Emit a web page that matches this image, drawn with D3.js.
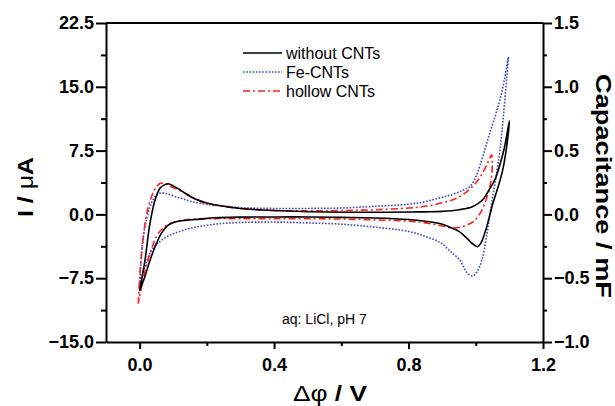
<!DOCTYPE html>
<html>
<head>
<meta charset="utf-8">
<script src="https://cdn.jsdelivr.net/npm/d3@7"></script>
<style>
    body { margin: 0; background: #fff; }
    svg text { font-family: "Liberation Sans", Arial, sans-serif; }
</style>
</head>
<body>
<div id="chart"></div>
<script>
// CV data: [potential / V, current / uA], forward sweep then return sweep
const withoutCNTs = [
    [0.0, -9.0], [0.008, -7.2], [0.016, -5.4], [0.031, -1.0], [0.046, 1.7], [0.061, 3.1],
    [0.075, 3.5], [0.085, 3.6], [0.1, 3.35], [0.12, 2.9], [0.14, 2.35], [0.165, 1.8],
    [0.2, 1.35], [0.25, 0.95], [0.3, 0.7], [0.4, 0.45], [0.5, 0.32], [0.6, 0.25],
    [0.7, 0.25], [0.8, 0.28], [0.85, 0.3], [0.9, 0.35], [0.95, 0.55], [0.99, 0.9],
    [1.02, 1.7], [1.04, 2.9], [1.057, 4.1], [1.07, 5.6], [1.085, 7.8], [1.1, 11.0],
    [1.092, 8.0], [1.08, 5.2], [1.067, 3.3], [1.051, 1.3], [1.03, -1.8], [1.015, -3.4],
    [1.005, -3.8], [0.99, -3.45], [0.975, -2.85], [0.95, -2.0], [0.92, -1.45], [0.89, -1.05],
    [0.85, -0.8], [0.8, -0.6], [0.7, -0.42], [0.6, -0.35], [0.5, -0.3], [0.4, -0.3],
    [0.3, -0.32], [0.224, -0.4], [0.18, -0.55], [0.135, -0.7], [0.1, -0.95], [0.084, -1.3],
    [0.065, -2.2], [0.046, -3.8], [0.03, -5.5], [0.015, -7.4], [0.0, -9.0]
];

const feCNTs = [
    [0.0, -8.3], [0.006, -4.6], [0.016, -1.4], [0.031, 0.9], [0.046, 2.1], [0.06, 2.5],
    [0.08, 2.45], [0.105, 2.1], [0.13, 1.8], [0.155, 1.5], [0.2, 1.2], [0.25, 1.0],
    [0.3, 0.8], [0.4, 0.7], [0.5, 0.7], [0.6, 0.75], [0.7, 0.95], [0.8, 1.2],
    [0.85, 1.5], [0.894, 1.95], [0.93, 2.35], [0.96, 2.8], [0.983, 3.3], [1.0, 4.4],
    [1.013, 5.8], [1.03, 8.0], [1.042, 9.6], [1.058, 11.6], [1.072, 13.5], [1.085, 15.8],
    [1.097, 18.5],
    [1.092, 16.0], [1.082, 11.5], [1.072, 7.6], [1.062, 4.8], [1.047, 1.3], [1.032, -2.6],
    [1.018, -5.4], [1.003, -6.8], [0.99, -7.25], [0.973, -6.8], [0.953, -5.4], [0.923, -4.3],
    [0.894, -3.3], [0.85, -2.6], [0.8, -2.0], [0.7, -1.5], [0.6, -1.15], [0.5, -1.0],
    [0.4, -0.9], [0.3, -0.95], [0.224, -1.15], [0.155, -1.6], [0.105, -2.2], [0.066, -3.0],
    [0.036, -4.2], [0.016, -6.1], [0.0, -8.3]
];

const hollowCNTs = [
    [-0.004, -10.5], [0.0, -7.5], [0.011, -2.6], [0.026, 0.9], [0.046, 3.0], [0.062, 3.65],
    [0.075, 3.6], [0.09, 3.3], [0.115, 2.9], [0.155, 2.1], [0.194, 1.3], [0.224, 1.1],
    [0.3, 0.7], [0.4, 0.45], [0.5, 0.42], [0.6, 0.45], [0.7, 0.55], [0.8, 0.75],
    [0.85, 0.95], [0.894, 1.3], [0.943, 1.9], [0.983, 3.0], [1.008, 4.1], [1.022, 5.0],
    [1.035, 6.0], [1.047, 7.0],
    [1.049, 6.0], [1.047, 4.45], [1.04, 2.9], [1.027, 1.3], [1.013, 0.13], [0.993, -0.86],
    [0.963, -1.4], [0.933, -1.6], [0.894, -1.3], [0.85, -1.0], [0.8, -0.8], [0.7, -0.65],
    [0.6, -0.55], [0.5, -0.5], [0.4, -0.5], [0.3, -0.5], [0.224, -0.5], [0.135, -0.66],
    [0.085, -1.2], [0.056, -2.2], [0.031, -4.6], [0.011, -7.5], [-0.004, -10.5]
];

const seriesNames = ["without CNTs", "Fe-CNTs", "hollow CNTs"];

const xTicks = [0.0, 0.4, 0.8, 1.2];
const xMinor = [0.2, 0.6, 1.0];
const yTicks = [-15, -7.5, 0, 7.5, 15, 22.5];
const yMinor = [-11.25, -3.75, 3.75, 11.25, 18.75];
const y2Ticks = [-1.0, -0.5, 0.0, 0.5, 1.0, 1.5];
const y2Minor = [-0.75, -0.25, 0.25, 0.75, 1.25];

const margin = { top: 23, right: 72, bottom: 64, left: 106 };
const width = 615 - margin.left - margin.right;
const height = 406 - margin.top - margin.bottom;

const svg = d3.select("#chart")
    .append("svg")
    .attr("width", 615)
    .attr("height", 406)
    .append("g")
    .attr("transform", `translate(${margin.left},${margin.top})`);

const x = d3.scaleLinear().domain([-0.1, 1.2]).range([0, width]);
const y = d3.scaleLinear().domain([-15, 22.5]).range([height, 0]);
const y2 = d3.scaleLinear().domain([-1.0, 1.5]).range([height, 0]);

const fmt = d3.format(".1f");

function styleAxis(g) {
    g.select(".domain").attr("stroke", "#000").attr("stroke-width", 2);
    g.selectAll(".tick line").attr("stroke", "#000").attr("stroke-width", 2);
    g.selectAll(".tick text")
        .attr("fill", "#000")
        .style("font-size", "18px")
        .style("font-weight", "bold");
}

function minorTicks(g) {
    g.select(".domain").remove();
    g.selectAll(".tick line").attr("stroke", "#000").attr("stroke-width", 2);
}

// top border
svg.append("line")
    .attr("x1", 0).attr("x2", width)
    .attr("y1", 0).attr("y2", 0)
    .attr("stroke", "#000").attr("stroke-width", 2);

// bottom axis
svg.append("g")
    .attr("transform", `translate(0,${height})`)
    .call(d3.axisBottom(x).tickValues(xTicks).tickFormat(fmt).tickSize(7).tickPadding(9).tickSizeOuter(0))
    .call(styleAxis);
svg.append("g")
    .attr("transform", `translate(0,${height})`)
    .call(d3.axisBottom(x).tickValues(xMinor).tickFormat("").tickSize(4))
    .call(minorTicks);

// left axis
svg.append("g")
    .call(d3.axisLeft(y).tickValues(yTicks).tickFormat(fmt).tickSize(10).tickPadding(2).tickSizeOuter(0))
    .call(styleAxis);
svg.append("g")
    .call(d3.axisLeft(y).tickValues(yMinor).tickFormat("").tickSize(5))
    .call(minorTicks);

// right axis
svg.append("g")
    .attr("transform", `translate(${width},0)`)
    .call(d3.axisRight(y2).tickValues(y2Ticks).tickFormat(fmt).tickSize(9).tickPadding(2).tickSizeOuter(0))
    .call(styleAxis);
svg.append("g")
    .attr("transform", `translate(${width},0)`)
    .call(d3.axisRight(y2).tickValues(y2Minor).tickFormat("").tickSize(4))
    .call(minorTicks);

// curves
const line = d3.line()
    .x(d => x(d[0]))
    .y(d => y(d[1]))
    .curve(d3.curveCatmullRom.alpha(0.5));

const styles = [
    { color: "#000000", dash: null, w: 1.6 },
    { color: "#3a48c0", dash: "1.6,1.6", w: 1.6 },
    { color: "#ff2020", dash: "7,3,2,3", w: 1.6 }
];

[feCNTs, hollowCNTs, withoutCNTs].forEach((data, i) => {
    const s = styles[[1, 2, 0][i]];
    svg.append("path")
        .datum(data)
        .attr("d", line)
        .style("fill", "none")
        .style("stroke", s.color)
        .style("stroke-width", s.w)
        .style("stroke-dasharray", s.dash);
});

// legend
const legend = svg.append("g").attr("transform", "translate(137,30)");
seriesNames.forEach((name, i) => {
    const s = styles[i];
    legend.append("line")
        .attr("x1", 0).attr("x2", 39)
        .attr("y1", i * 19).attr("y2", i * 19)
        .style("stroke", s.color)
        .style("stroke-width", s.w)
        .style("stroke-dasharray", s.dash);
    legend.append("text")
        .attr("x", 43)
        .attr("y", i * 19 + 5.5)
        .style("font-size", "16px")
        .text(name);
});

// annotation
svg.append("text")
    .attr("x", 176)
    .attr("y", 301)
    .style("font-size", "14px")
    .text("aq: LiCl, pH 7");

// axis titles
svg.append("text")
    .attr("transform", "rotate(-90)")
    .attr("x", -164)
    .attr("y", -73)
    .attr("text-anchor", "middle")
    .attr("textLength", 60)
    .attr("lengthAdjust", "spacingAndGlyphs")
    .style("font-size", "22px")
    .style("font-weight", "bold")
    .html('I / <tspan style="font-weight:normal">μ</tspan>A');

svg.append("text")
    .attr("x", 224)
    .attr("y", 378)
    .attr("text-anchor", "middle")
    .attr("textLength", 74)
    .attr("lengthAdjust", "spacingAndGlyphs")
    .style("font-size", "22px")
    .style("font-weight", "bold")
    .html('<tspan style="font-weight:normal">Δφ</tspan> / V');

svg.append("text")
    .attr("transform", `translate(${490},${163}) rotate(90)`)
    .attr("text-anchor", "middle")
    .attr("textLength", 224)
    .attr("lengthAdjust", "spacingAndGlyphs")
    .style("font-size", "22px")
    .style("font-weight", "bold")
    .text("Capacitance / mF");
</script>
</body>
</html>
